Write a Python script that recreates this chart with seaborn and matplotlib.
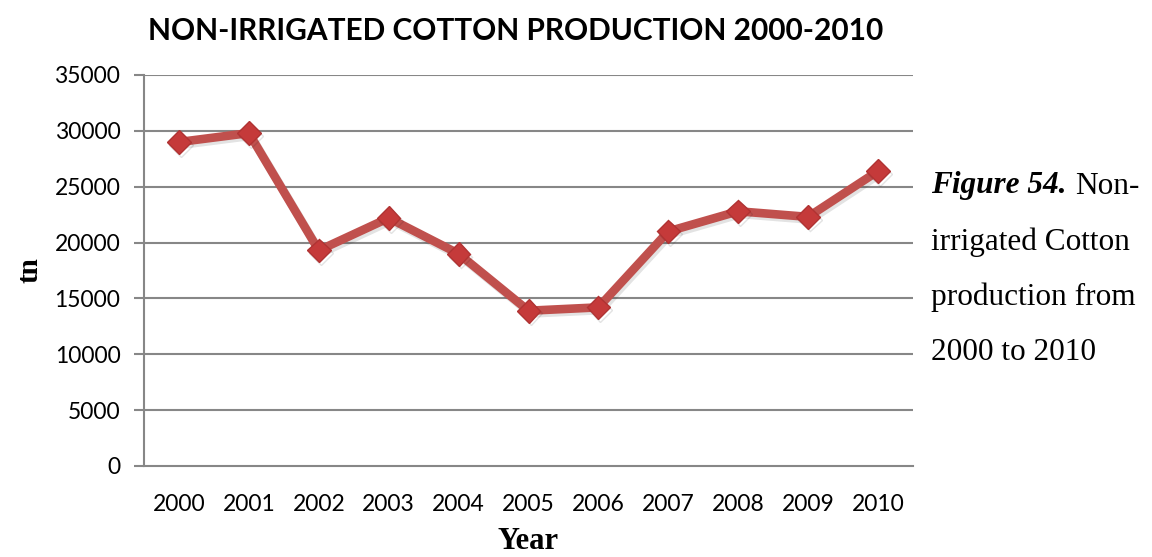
import matplotlib
matplotlib.use("Agg")
import matplotlib.pyplot as plt
import matplotlib.patheffects as pe
import seaborn as sns
import pandas as pd

# Non-irrigated cotton production (tn), 2000-2010
years = [2000, 2001, 2002, 2003, 2004, 2005, 2006, 2007, 2008, 2009, 2010]
production = [29000, 29800, 19300, 22200, 19000, 13900, 14200, 21000, 22800, 22300, 26400]
y_ticks = [0, 5000, 10000, 15000, 20000, 25000, 30000, 35000]

title = "NON-IRRIGATED COTTON PRODUCTION 2000-2010"
x_label = "Year"
y_label = "tn"

df = pd.DataFrame({"Year": years, "Production": production})

sns.set_theme(style="white")
plt.rcParams["font.family"] = ["Lato", "DejaVu Sans"]
plt.rcParams["text.color"] = "black"
plt.rcParams["axes.labelcolor"] = "black"

fig = plt.figure(figsize=(11.52, 5.57), dpi=100)
ax = fig.add_axes([144 / 1152, 1 - 466 / 557, (913 - 144) / 1152, (466 - 75) / 557])

grid_color = "#878787"
line_color = "#C0504D"

sns.lineplot(
    data=df, x="Year", y="Production", ax=ax,
    color=line_color, linewidth=6.2, marker="D", markersize=12,
    markerfacecolor="#C53A3A", markeredgecolor="#B03333", markeredgewidth=1,
    path_effects=[pe.SimpleLineShadow(offset=(1.5, -2), alpha=0.12), pe.Normal()],
    zorder=5,
)

ax.set_xlim(years[0] - 0.5, years[-1] + 0.5)
ax.set_ylim(0, 35000)
ax.set_yticks(y_ticks)
ax.set_yticklabels([str(v) for v in y_ticks])
ax.set_xticks(years)
ax.set_xticklabels([str(y) for y in years])

for v in y_ticks[1:]:
    ax.axhline(v, color=grid_color, linewidth=1.5, zorder=1)

for side in ["top", "right"]:
    ax.spines[side].set_visible(False)
for side in ["left", "bottom"]:
    ax.spines[side].set_color(grid_color)
    ax.spines[side].set_linewidth(1.5)

ax.tick_params(axis="y", which="major", left=True, length=7, width=1.5,
               color=grid_color, labelsize=16.5, pad=10, labelcolor="black")
ax.tick_params(axis="x", which="major", bottom=False, labelsize=16.5, pad=14,
               labelcolor="black")

ax.set_xlabel(x_label, fontsize=22, fontweight="bold", family="Liberation Serif",
              labelpad=9)
ax.set_ylabel(y_label, fontsize=21, fontweight="bold", family="Liberation Serif",
              labelpad=8)

fig.text(516 / 1152, 1 - 31 / 557, title, ha="center", va="center",
         fontsize=21.5, fontweight="bold")

# Caption beside the chart
cap_x = 931 / 1152
fig.text(cap_x, 1 - 186 / 557, "Figure 54.", ha="left", va="center",
         fontsize=22.5, family="Liberation Serif", fontweight="bold", style="italic")
fig.text(1075 / 1152, 1 - 186 / 557, "Non-", ha="left", va="center",
         fontsize=22.5, family="Liberation Serif")
for txt, ypx in [("irrigated Cotton", 242), ("production from", 297), ("2000 to 2010", 352)]:
    fig.text(cap_x, 1 - ypx / 557, txt, ha="left", va="center",
             fontsize=22.5, family="Liberation Serif")

fig.savefig("out.png", dpi=100, facecolor="white")
